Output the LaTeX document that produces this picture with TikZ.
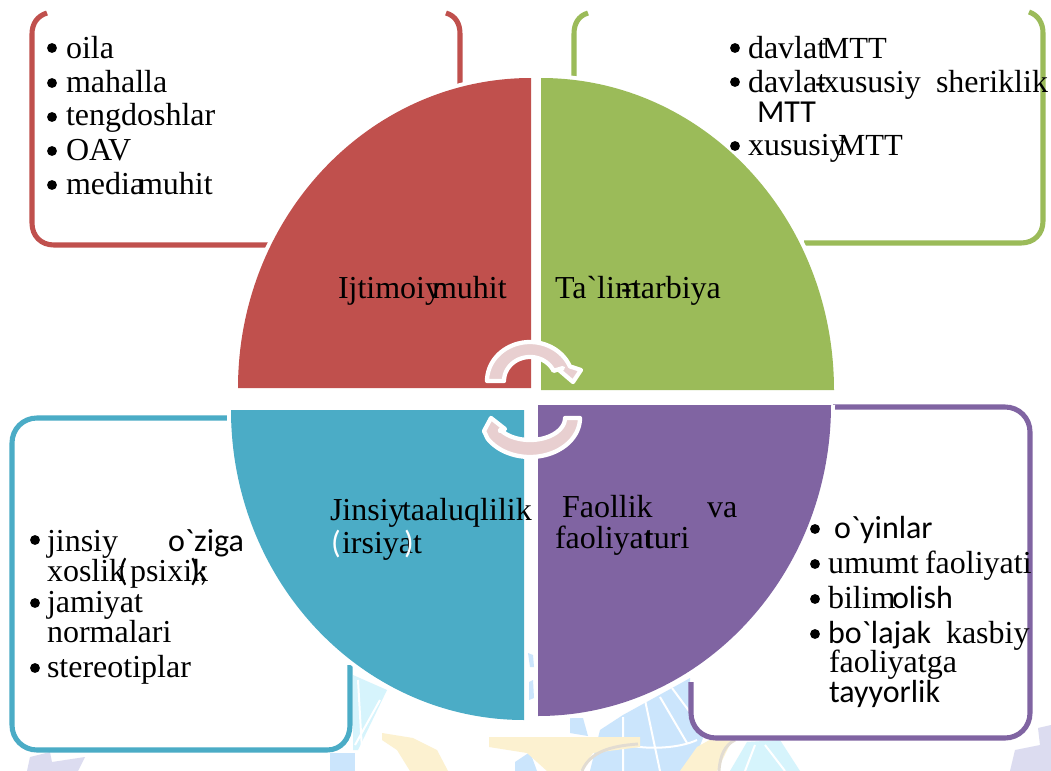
\documentclass[tikz,border=0pt]{standalone}
\usepackage{fontspec}
\setmainfont{Liberation Serif}
\newfontfamily\serf{Liberation Serif}
\newfontfamily\sansf{Carlito}
\definecolor{cred}{HTML}{C0504D}
\definecolor{cgreen}{HTML}{9BBB59}
\definecolor{cteal}{HTML}{4BACC6}
\definecolor{cpurple}{HTML}{8064A2}
\definecolor{cpink}{HTML}{E8CFD0}
\definecolor{wblue}{HTML}{CBE5FC}
\definecolor{wcyan}{HTML}{D6F4FC}
\definecolor{wyellow}{HTML}{FCF1D0}
\definecolor{wgray}{HTML}{E2DCD2}
\definecolor{wlav}{HTML}{DCDCF0}
\tikzset{
  tx/.style={anchor=base west,inner sep=0pt,outer sep=0pt,font=\fontsize{24}{26}\selectfont\serf,text=black},
  txm/.style={tx,font=\fontsize{23}{25}\selectfont\serf},
  sx/.style={tx,font=\fontsize{24}{26}\selectfont\sansf},
  bul/.style={circle,fill=black,inner sep=0pt,minimum size=7.4pt},
  boxline/.style={line width=3.8pt,fill=none,line cap=butt},
  turn/.style={fill=cpink,draw=white,line width=3.2pt,line join=round},
  wline/.style={draw=white,line width=1.5pt}
}
\begin{document}
\begin{tikzpicture}[x=0.75pt,y=-0.75pt]
\useasboundingbox (0,0) rectangle (1051,771);
\fill[white] (0,0) rectangle (1051,771);
% watermark
\fill[wcyan] (353,675) -- (387,690) -- (358,750) -- (353,750) -- cycle;
\fill[wblue] (330,753) -- (355,753) -- (355,771) -- (330,771) -- cycle;
\fill[wblue] (600,730) -- (623,715) -- (683,682) -- (690,678) -- (690,710) -- (703,738) -- (690,771) -- (590,771) -- cycle;
\fill[wblue] (570,718) -- (583,718) -- (588,736) -- (570,733) -- cycle;
\fill[wblue] (515,762) -- (530,752) -- (537,771) -- (515,771) -- cycle;
\fill[wcyan] (730,771) -- (747,742) -- (780,740) -- (800,771) -- cycle;
\draw[wline] (645,700) -- (660,771) (660,697) -- (687,743) (672,688) -- (692,715) (623,717) -- (623,771) (627,745) .. controls (650,750) and (680,748) .. (697,740);
\draw[wline] (358,680) -- (362,750) (380,700) -- (355,745);
\draw[wline] (745,771) -- (755,745) (765,745) -- (785,771);
\fill[wyellow] (382,733) -- (413,738) -- (437,750) -- (448,771) -- (410,771) -- (397,750) -- (382,740) -- cycle;
\fill[wyellow] (489,737) -- (640,737) -- (640,747) -- (593,753) -- (580,771) -- (547,771) -- (527,753) -- (489,747) -- cycle;
\fill[wyellow] (680,771) -- (697,747) -- (713,738) -- (733,738) -- (717,771) -- cycle;
\draw[wgray,line width=2.2pt] (582,771) .. controls (590,752) and (610,746) .. (638,744);
\draw[wgray,line width=2.2pt] (719,771) .. controls (720,755) and (725,745) .. (735,740);
\fill[wlav] (27,771) -- (30,757) -- (50,752) -- (52,762) -- (85,757) -- (78,771) -- cycle;
\fill[wlav] (1010,771) -- (1015,750) -- (1040,745) -- (1038,728) -- (1051,725) -- (1051,771) -- cycle;
% boxes
\fill[white] (32,12) rectangle (460,245);
\fill[white] (574,12) rectangle (1043,243);
\fill[white,rounded corners=19pt] (12,418) rectangle (350,750);
\fill[white,rounded corners=19pt] (691,407) rectangle (1030,738);
\draw[boxline,cred] (47,13) .. controls (37,16) and (32,24) .. (32,34) -- (32,223) .. controls (32,236) and (41,245) .. (54,245) -- (268,245);
\draw[boxline,cred] (446,13) .. controls (456,16) and (460,24) .. (460,34) -- (460,84);
\draw[boxline,cgreen] (588,13) .. controls (578,16) and (574,24) .. (574,34) -- (574,86);
\draw[boxline,cgreen] (1029,12) .. controls (1038,15) and (1043,23) .. (1043,33) -- (1043,221) .. controls (1043,234) and (1034,243) .. (1021,243) -- (804,243);
\draw[boxline,cteal] (230,418) -- (37,418) .. controls (23,418) and (12,429) .. (12,443) -- (12,725) .. controls (12,739) and (23,750) .. (37,750) -- (327,750) .. controls (341,750) and (350,739) .. (350,725) -- (350,665);
\draw[boxline,cpurple] (833,407) -- (1005,407) .. controls (1019,407) and (1030,418) .. (1030,432) -- (1030,713) .. controls (1030,727) and (1019,738) .. (1005,738) -- (716,738) .. controls (702,738) and (691,727) .. (691,713) -- (691,682);
% sector halos
\draw[white,line width=6pt] (238,388) .. controls (238,217) and (369,78) .. (531,78);
\draw[white,line width=6pt] (834,388) .. controls (834,217) and (703,78) .. (541,78);
\draw[white,line width=6pt] (231,410) .. controls (231,581) and (362,720) .. (524,720);
\draw[white,line width=6pt] (831,405) .. controls (831,576) and (700,716) .. (538,716);
\fill[white] (524,380) rectangle (538,725);
% sectors
\fill[cred] (531,388) -- (238,388) .. controls (238,217) and (369,78) .. (531,78) -- cycle;
\fill[cgreen] (541,390) -- (834,390) .. controls (834,217) and (703,78) .. (541,78) -- cycle;
\fill[cteal] (524,410) -- (231,410) .. controls (231,581) and (362,720) .. (524,720) -- cycle;
\fill[cpurple] (538,405) -- (831,405) .. controls (831,576) and (700,716) .. (538,716) -- cycle;
\fill[wblue] (528,653) -- (533,655) -- (534,667) -- (530,667) -- cycle;
\fill[wblue] (529,682) -- (533,680) -- (534,698) -- (529,700) -- cycle;
% circular arrows
\draw[turn] plot[domain=180:22,samples=40] ({530+43*cos(\x)},{381-39*sin(\x)})
  -- (581,370) -- (573,382) -- (559,370) -- (563,368)
  -- plot[domain=25:180,samples=40] ({530+26*cos(\x)},{381-24*sin(\x)}) -- cycle;
\draw[turn] plot[domain=360:212,samples=40] ({530+50*cos(\x)},{418-39*sin(\x)})
  -- (484,431) -- (491,418) -- (505,429) -- (500,431)
  -- plot[domain=212:360,samples=40] ({530+35*cos(\x)},{418-22*sin(\x)}) -- cycle;
% red list
\node[bul] (b1) at (52,48) {};
\node[tx] (t1) at (66,58) {oila};
\node[bul] (b2) at (52,83) {};
\node[tx] (t2) at (66,92) {mahalla};
\node[bul] (b3) at (52,117) {};
\node[tx] (t3) at (66,125) {tengdoshlar};
\node[bul] (b4) at (52,151) {};
\node[tx] (t4) at (66,160) {OAV};
\node[bul] (b5) at (52,185) {};
\node[tx] (t5) at (66,194) {media};
\node[tx] (t5b) at (138,194) {muhit};
% green list
\node[bul] (g1) at (735,48) {};
\node[tx] (g1a) at (748,58) {davlat};
\node[txm] (g1b) at (822,58) {MTT};
\node[bul] (g2) at (735,82) {};
\node[tx] (g2a) at (748,92) {davlat};
\node[tx] (g2h) at (815,92) {-};
\node[tx] (g2b) at (823,92) {xususiy};
\node[tx] (g2c) at (936,92) {sheriklik};
\node[sx] (g3) at (757,122) {MTT};
\node[bul] (g4) at (735,146) {};
\node[tx] (g4a) at (748,155) {xususiy};
\node[txm] (g4b) at (838,155) {MTT};
% sector labels
\node[tx] (s1a) at (338,298) {Ijtimoiy};
\node[tx] (s1b) at (432,298) {muhit};
\node[tx] (s2) at (555,298) {Ta`lim};
\node[tx] (s2h) at (621,298) {-};
\node[tx] (s2b) at (632,298) {tarbiya};
\node[tx] (s3a) at (330,520) {Jinsiy};
\node[tx] (s3b) at (402,520) {taaluqlilik};
\node[sx,text=white] (s3c) at (331,553) {(};
\node[tx] (s3d) at (342,553) {irsiyat};
\node[sx,text=white] (s3e) at (404,553) {)};
\node[tx] (s4a) at (562,517) {Faollik};
\node[tx] (s4b) at (707,517) {va};
\node[tx] (s4c) at (555,548) {faoliyat};
\node[tx] (s4d) at (645,548) {turi};
% teal list
\node[bul] (e1) at (35,540) {};
\node[tx] (e1a) at (47,551) {jinsiy};
\node[sx] (e1b) at (168,551) {o`ziga};
\node[tx] (e2a) at (47,581) {xoslik};
\node[sx] (e2b) at (118,581) {(};
\node[tx] (e2c) at (130,581) {psixik};
\node[sx] (e2d) at (190,581) {)};
\node[sx] (e2e) at (199,581) {;};
\node[bul] (e3) at (35,603) {};
\node[tx] (e3a) at (47,612) {jamiyat};
\node[tx] (e4) at (47,642) {normalari};
\node[bul] (e5) at (35,668) {};
\node[tx] (e5a) at (47,677) {stereotiplar};
% purple list
\node[bul] (p1) at (815,529) {};
\node[sx] (p1a) at (834,538) {o`yinlar};
\node[bul] (p2) at (815,564) {};
\node[tx] (p2a) at (828,573) {umumt};
\node[tx] (p2b) at (925,573) {faoliyati};
\node[bul] (p3) at (815,599) {};
\node[tx] (p3a) at (828,608) {bilim};
\node[sx] (p3b) at (892,608) {olish};
\node[bul] (p4) at (815,634) {};
\node[sx] (p4a) at (828,643) {bo`lajak};
\node[tx] (p4b) at (946,643) {kasbiy};
\node[tx] (p5) at (829,672) {faoliyatga};
\node[sx] (p6) at (829,702) {tayyorlik};
\end{tikzpicture}
\end{document}
